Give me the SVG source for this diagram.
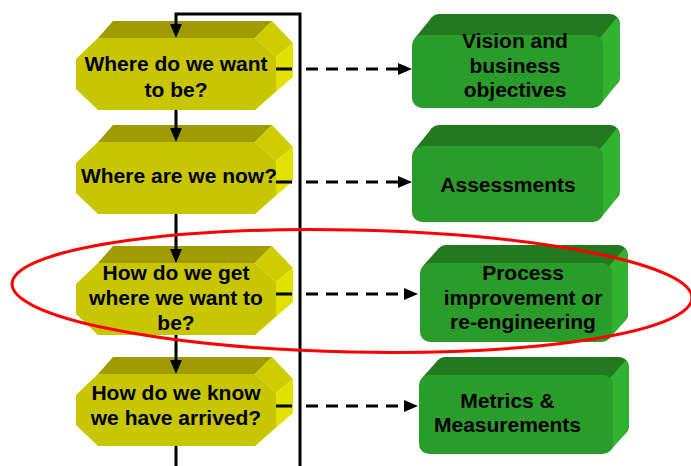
<svg xmlns="http://www.w3.org/2000/svg" xmlns:xlink="http://www.w3.org/1999/xlink" width="691" height="466" viewBox="0 0 691 466">
  <style>
    .lbl { font-family: "Liberation Sans", Arial, sans-serif; font-weight: bold; font-size: 21px; fill: #000; text-anchor: middle; }
    .y-top { fill: #a09c00; }
    .y-front { fill: #c8c600; }
    .y-ur { fill: #cfcd00; }
    .y-lr { fill: #e2e200; }
    .g-top { fill: #22791f; }
    .g-front { fill: #2a9c2a; }
    .g-side { fill: #31b331; }
    .wire { fill: none; stroke: #000; stroke-width: 3; }
    .dash { fill: none; stroke: #000; stroke-width: 3; stroke-dasharray: 12 8; }
    .focus { fill: none; stroke: #ff0000; stroke-width: 3; }
  </style>
  <defs>
    <marker id="head" markerUnits="userSpaceOnUse" markerWidth="14" markerHeight="12" refX="8" refY="6" orient="auto">
      <path d="M0,0 L14,6 L0,12 z" fill="#000"/>
    </marker>
    <!-- extruded hexagon used for the question steps -->
    <g id="hex">
      <polygon class="y-top" points="98,38 113,21 272,21 255,38"/>
      <polygon class="y-ur" points="255,38 272,21 293,43 276,57"/>
      <polygon class="y-lr" points="276,57 293,43 293,77 255,110"/>
      <polygon class="y-front" points="98,38 255,38 276,57 276,91 255,110 98,110 76,89 76,59"/>
    </g>
  </defs>

  <rect width="691" height="466" fill="#fff"/>

  <!-- question steps -->
  <g id="q-where-want">
    <use xlink:href="#hex" href="#hex"/>
    <text class="lbl" x="176" y="71">Where do we want</text>
    <text class="lbl" x="176" y="97">to be?</text>
  </g>
  <g id="q-where-now">
    <use xlink:href="#hex" href="#hex" y="104"/>
    <text class="lbl" x="179" y="183">Where are we now?</text>
  </g>
  <g id="q-how-get">
    <use xlink:href="#hex" href="#hex" y="225"/>
    <text class="lbl" x="176" y="280">How do we get</text>
    <text class="lbl" x="176" y="305">where we want to</text>
    <text class="lbl" x="176" y="330">be?</text>
  </g>
  <g id="q-how-know">
    <use xlink:href="#hex" href="#hex" y="336"/>
    <text class="lbl" x="176" y="400">How do we know</text>
    <text class="lbl" x="176" y="425">we have arrived?</text>
  </g>

  <!-- answers -->
  <g id="a-vision">
    <rect class="g-top" x="429" y="14" width="191" height="73" rx="10"/>
    <polygon class="g-top" points="415,38 432,17 617,17 600,38"/>
    <polygon class="g-side" points="600,38 617,17 620,24 620,77 617,84 600,105"/>
    <rect class="g-front" x="412" y="35" width="191" height="73" rx="10"/>
    <text class="lbl" x="515" y="48">Vision and</text>
    <text class="lbl" x="515" y="73">business</text>
    <text class="lbl" x="515" y="97">objectives</text>
  </g>
  <g id="a-assessments">
    <rect class="g-top" x="429" y="125" width="191" height="76" rx="10"/>
    <polygon class="g-top" points="415,149 432,128 617,128 600,149"/>
    <polygon class="g-side" points="600,149 617,128 620,135 620,191 617,198 600,219"/>
    <rect class="g-front" x="412" y="146" width="191" height="76" rx="10"/>
    <text class="lbl" x="508" y="192">Assessments</text>
  </g>
  <g id="a-process">
    <rect class="g-top" x="436" y="245" width="192" height="79" rx="10"/>
    <polygon class="g-top" points="423,266 439,248 625,248 609,266"/>
    <polygon class="g-side" points="609,266 625,248 628,255 628,314 625,321 609,339"/>
    <rect class="g-front" x="420" y="263" width="192" height="79" rx="10"/>
    <text class="lbl" x="523" y="280">Process</text>
    <text class="lbl" x="523" y="305">improvement or</text>
    <text class="lbl" x="523" y="329">re-engineering</text>
  </g>
  <g id="a-metrics">
    <rect class="g-top" x="435" y="357" width="194" height="79" rx="10"/>
    <polygon class="g-top" points="422,378 438,360 626,360 610,378"/>
    <polygon class="g-side" points="610,378 626,360 629,367 629,426 626,433 610,451"/>
    <rect class="g-front" x="419" y="375" width="194" height="79" rx="10"/>
    <text class="lbl" x="507.5" y="408">Metrics &amp;</text>
    <text class="lbl" x="507.5" y="432">Measurements</text>
  </g>

  <!-- connectors -->
  <g id="connectors">
    <path class="wire" d="M300,466 V14 H176 V32" marker-end="url(#head)"/>
    <path class="wire" d="M176,110 V136" marker-end="url(#head)"/>
    <path class="wire" d="M176,214 V257" marker-end="url(#head)"/>
    <path class="wire" d="M176,335 V368" marker-end="url(#head)"/>
    <path class="wire" d="M176,446 V466"/>

    <path class="wire" d="M276,69 H292"/>
    <path class="dash" d="M306,69 H406" marker-end="url(#head)"/>
    <path class="wire" d="M276,182 H292"/>
    <path class="dash" d="M306,182 H406" marker-end="url(#head)"/>
    <path class="wire" d="M276,294 H292"/>
    <path class="dash" d="M306,294 H412" marker-end="url(#head)"/>
    <path class="wire" d="M276,406 H292"/>
    <path class="dash" d="M306,406 H412" marker-end="url(#head)"/>
  </g>

  <!-- highlight ring -->
  <ellipse id="highlight" class="focus" cx="352" cy="291" rx="340" ry="61" transform="rotate(1.2 352 291)"/>
</svg>
